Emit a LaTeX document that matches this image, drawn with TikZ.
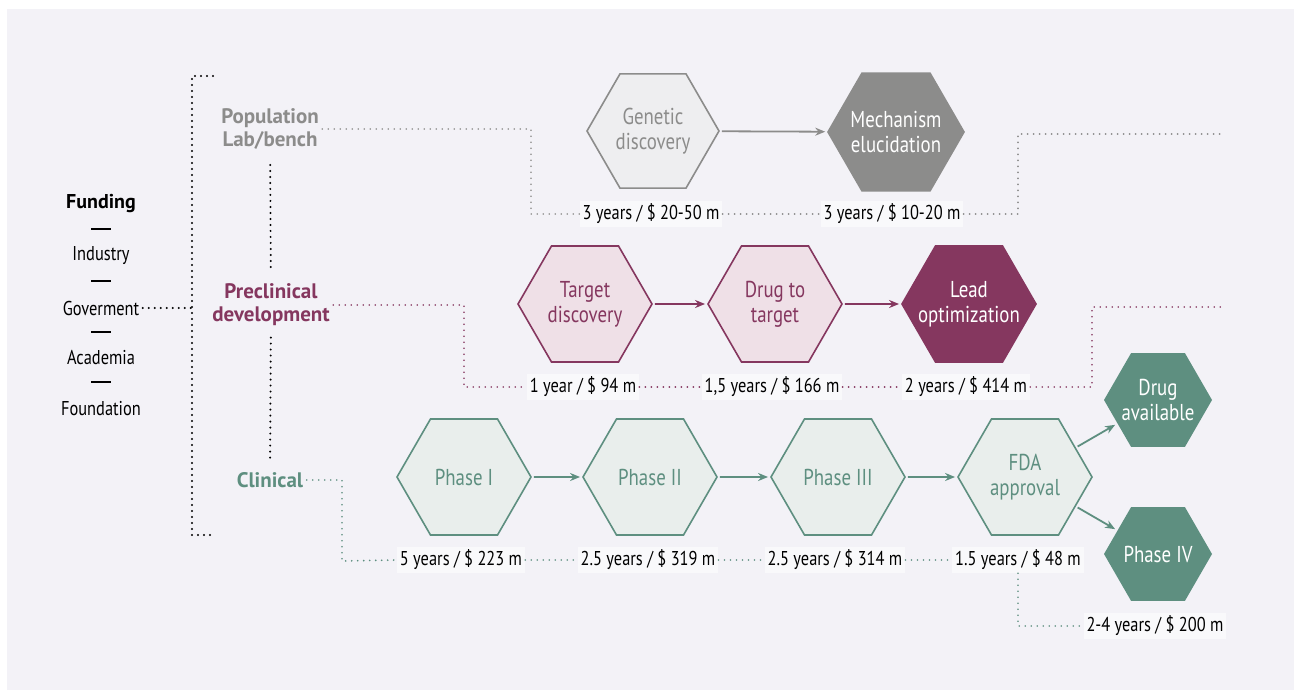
\documentclass[tikz,border=0pt]{standalone}
\usepackage{fontspec}
\setmainfont{PT Sans}[FakeStretch=0.82]
\newfontfamily\stagefont{PT Sans}
\usetikzlibrary{positioning, shapes.geometric, arrows.meta}

\definecolor{panel}{HTML}{F3F2F7}
\definecolor{labelbg}{HTML}{F9F9FB}
\definecolor{popgray}{HTML}{8C8C8B}
\definecolor{poplight}{HTML}{EEEEF0}
\definecolor{prepurple}{HTML}{85375F}
\definecolor{prelight}{HTML}{EFE0E7}
\definecolor{cliteal}{HTML}{5E8F80}
\definecolor{clilight}{HTML}{E9EEEC}

\tikzset{
	hex/.style={regular polygon, regular polygon sides=6, inner sep=-10pt, align=center,
		line width=1.6pt, minimum size=134pt, font=\fontsize{23}{25}\selectfont}
}
\tikzset{
	smallhex/.style={hex, minimum size=108pt}
}
\tikzset{
	stagetext/.style={align=center, font=\stagefont\fontsize{21}{23}\selectfont\bfseries}
}
\tikzset{
	fundtext/.style={font=\fontsize{20}{24}\selectfont}
}
\tikzset{
	funddash/.style={fill=black, inner sep=0pt, minimum width=20pt, minimum height=1.3pt}
}
\tikzset{
	cost/.style={fill=labelbg, inner sep=3pt, font=\fontsize{20}{24}\selectfont}
}
\tikzset{
	fundots/.style={line width=2.2pt, dash pattern=on 0pt off 6pt, line cap=round, black}
}
\tikzset{
	rowdots/.style={line width=1.9pt, dash pattern=on 0pt off 6pt, line cap=round}
}
\tikzset{
	flow/.style={line width=1.8pt, -{Stealth[length=10pt, width=8pt]}, shorten <=2pt, shorten >=2pt}
}

\begin{document}
\begin{tikzpicture}[x=1pt, y=-1pt]
      \useasboundingbox (0,0) rectangle (1294,690);
      \fill[white] (0,0) rectangle (1294,690);
      \fill[panel] (7,9) rectangle (1294,690);

      % funding column
      \node[stagetext, font=\stagefont\fontsize{20}{23}\selectfont\bfseries] (fund) at (101,204) {Funding};
      \node[funddash] (dash1) at (101,229) {};
      \node[fundtext] (ind) at (101,256) {Industry};
      \node[funddash] (dash2) at (101,281) {};
      \node[fundtext] (gov) at (101,308) {Goverment};
      \node[funddash] (dash3) at (101,332) {};
      \node[fundtext] (aca) at (101,358) {Academia};
      \node[funddash] (dash4) at (101,382) {};
      \node[fundtext] (fou) at (101,409) {Foundation};

      \coordinate (brtop) at (213,76);
      \coordinate (bracket) at (192,76);
      \coordinate (brbot) at (213,535);
      \draw[fundots] (brtop) -- (bracket) |- (brbot);
      \draw[fundots] (gov.east) -- (gov.east -| bracket);

      % stages
      \node[stagetext, text=popgray] (pop) at (270,129) {Population\\Lab/bench};
      \node[stagetext, text=prepurple] (pre) at (271,305) {Preclinical\\development};
      \node[stagetext, text=cliteal] (cli) at (270,480) {Clinical};
      \draw[fundots, shorten <=12pt, shorten >=8pt] (pop) -- (pre);
      \draw[fundots, shorten <=8pt, shorten >=6pt] (pre) -- (cli);

      % population row
      \node[hex, draw=popgray, fill=poplight, text=popgray, minimum size=132pt] (gen) at (653,131) {Genetic\\discovery};
      \node[hex, draw=popgray, fill=popgray, text=white, minimum size=136pt] (mech) at (896,132) {Mechanism\\elucidation};
      \draw[flow, popgray] (gen) -- (mech);
      \node[cost] (gcost) at (651,214) {3 years / \$ 20-50 m};
      \node[cost] (mcost) at (892,214) {3 years / \$ 10-20 m};
      \coordinate (popknee) at (531,214);
      \coordinate (popturn) at (1018,134);
      \coordinate (popend) at (1223,134);
      \draw[rowdots, popgray] (pop.east) -| (popknee) -- (gcost.west);
      \draw[rowdots, popgray] (gcost.east) -- (mcost.west);
      \draw[rowdots, popgray] (mcost.east) -| (popturn) -- (popend);

      % preclinical row
      \node[hex, draw=prepurple, fill=prelight, text=prepurple] (tdisc) at (585,304) {Target\\discovery};
      \node[hex, draw=prepurple, fill=prelight, text=prepurple] (drug) at (775,304) {Drug to\\target};
      \node[hex, draw=prepurple, fill=prepurple, text=white] (lead) at (969,304) {Lead\\optimization};
      \draw[flow, prepurple] (tdisc) -- (drug);
      \draw[flow, prepurple] (drug) -- (lead);
      \node[cost] (tcost) at (583,387) {1 year / \$ 94 m};
      \node[cost] (dcost) at (772,387) {1,5 years / \$ 166 m};
      \node[cost] (lcost) at (966,387) {2 years / \$ 414 m};
      \coordinate (preknee) at (464,387);
      \coordinate (preturn) at (1092,307);
      \coordinate (preend) at (1223,307);
      \draw[rowdots, prepurple] (pre.east) -| (preknee) -- (tcost.west);
      \draw[rowdots, prepurple] (tcost.east) -- (dcost.west);
      \draw[rowdots, prepurple] (dcost.east) -- (lcost.west);
      \draw[rowdots, prepurple] (lcost.east) -| (preturn) -- (preend);

      % clinical row
      \node[hex, draw=cliteal, fill=clilight, text=cliteal] (ph1) at (464,477) {Phase I};
      \node[hex, draw=cliteal, fill=clilight, text=cliteal] (ph2) at (650,477) {Phase II};
      \node[hex, draw=cliteal, fill=clilight, text=cliteal] (ph3) at (838,477) {Phase III};
      \node[hex, draw=cliteal, fill=clilight, text=cliteal] (fda) at (1025,477) {FDA\\approval};
      \node[smallhex, fill=cliteal, text=white] (avail) at (1158,400) {Drug\\available};
      \node[smallhex, fill=cliteal, text=white] (ph4) at (1158,554) {Phase IV};
      \draw[flow, cliteal] (ph1) -- (ph2);
      \draw[flow, cliteal] (ph2) -- (ph3);
      \draw[flow, cliteal] (ph3) -- (fda);
      \draw[flow, cliteal] (fda) -- (avail);
      \draw[flow, cliteal] (fda) -- (ph4);
      \node[cost] (c1) at (461,560) {5 years / \$ 223 m};
      \node[cost] (c2) at (648,560) {2.5 years / \$ 319 m};
      \node[cost] (c3) at (835,560) {2.5 years / \$ 314 m};
      \node[cost] (c4) at (1018,560) {1.5 years / \$ 48 m};
      \node[cost] (c5) at (1155,626) {2-4 years / \$ 200 m};
      \coordinate (cliknee) at (342,561);
      \draw[rowdots, cliteal] (cli.east) -| (cliknee) -- (c1.west);
      \draw[rowdots, cliteal] (c1.east) -- (c2.west);
      \draw[rowdots, cliteal] (c2.east) -- (c3.west);
      \draw[rowdots, cliteal] (c3.east) -- (c4.west);
      \draw[rowdots, cliteal] (c4.south) |- (c5.west);
    \end{tikzpicture}
\end{document}
